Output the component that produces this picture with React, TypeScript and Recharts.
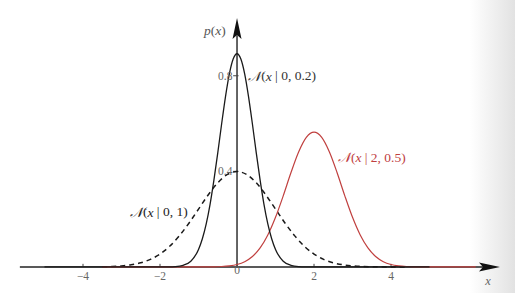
import React from "react";
import { LineChart, Line, XAxis, YAxis, ReferenceLine, ReferenceDot } from "recharts";

// N(x | 0, 0.2)
const narrowX = [-5.0, -2.0, -1.8, -1.6, -1.4, -1.2, -1.0, -0.9, -0.8, -0.7, -0.6, -0.5, -0.4, -0.3, -0.2, -0.1, 0, 0.1, 0.2, 0.3, 0.4, 0.5, 0.6, 0.7, 0.8, 0.9, 1.0, 1.2, 1.4, 1.6, 1.8, 2.0, 5.0];
const narrowP = [0, 0, 0.0003, 0.0015, 0.007, 0.024, 0.073, 0.118, 0.18, 0.262, 0.363, 0.477, 0.598, 0.712, 0.807, 0.87, 0.892, 0.87, 0.807, 0.712, 0.598, 0.477, 0.363, 0.262, 0.18, 0.118, 0.073, 0.024, 0.007, 0.0015, 0.0003, 0, 0];

// N(x | 0, 1)
const wideX = [-3.5, -3.25, -3, -2.75, -2.5, -2.25, -2, -1.75, -1.5, -1.25, -1, -0.75, -0.5, -0.25, 0, 0.25, 0.5, 0.75, 1, 1.25, 1.5, 1.75, 2, 2.25, 2.5, 2.75, 3, 3.25, 3.5, 4, 4.4];
const wideP = [0.0009, 0.002, 0.0044, 0.0091, 0.0175, 0.0317, 0.054, 0.0863, 0.13, 0.183, 0.242, 0.301, 0.352, 0.387, 0.399, 0.387, 0.352, 0.301, 0.242, 0.183, 0.13, 0.0863, 0.054, 0.0317, 0.0175, 0.0091, 0.0044, 0.002, 0.0009, 0.0001, 0];

// N(x | 2, 0.5)
const redX = [-3.5, -1.0, -0.6, -0.4, -0.2, 0, 0.2, 0.4, 0.6, 0.8, 1.0, 1.2, 1.4, 1.6, 1.8, 2.0, 2.2, 2.4, 2.6, 2.8, 3.0, 3.2, 3.4, 3.6, 3.8, 4.0, 4.2, 4.4, 4.6, 5.0, 6.2];
const redP = [0, 0.0001, 0.00065, 0.0018, 0.0045, 0.0103, 0.0221, 0.0436, 0.0795, 0.1337, 0.2076, 0.2975, 0.394, 0.481, 0.542, 0.564, 0.542, 0.481, 0.394, 0.2975, 0.2076, 0.1337, 0.0795, 0.0436, 0.0221, 0.0103, 0.0045, 0.0018, 0.00065, 0.0001, 0];

const xTicks = [-4, -2, 0, 2, 4];
const xTickLabels = ["\u22124", "\u22122", "0", "2", "4"];
const yTicks = [0.4, 0.8];
const yTickLabels = ["0.4", "0.8"];

const toRows = (xs: number[], ps: number[]) => xs.map((x, i) => ({ x, p: ps[i] }));

const narrowData = toRows(narrowX, narrowP);
const wideData = toRows(wideX, wideP);
const redData = toRows(redX, redP);

const serif = { fontFamily: "Liberation Serif" };
const RED = "#c0403f";

const Nlabel = (args: string, color: string) => (props: any) => (
    <text x={props.cx} y={props.cy} dominantBaseline="central" style={serif} fontSize={13.5} fill={color}>
        <tspan fontStyle="italic">𝒩</tspan>(<tspan fontStyle="italic">x</tspan> | {args})
    </text>
);

export default function App() {
    return (
        <div style={{ position: "absolute", left: 0, top: 0, width: 515, height: 293, background: "linear-gradient(to right, #fff 0px, #fff 470px, #e2e2e2 515px)" }}>
            <LineChart width={515} height={293} margin={{ top: 0, right: 0, bottom: 0, left: 0 }}>
                <XAxis hide type="number" dataKey="x" domain={[-6.156, 7.22]} allowDataOverflow />
                <YAxis hide type="number" domain={[-0.109, 1.117]} allowDataOverflow />

                {/* axes */}
                <ReferenceLine segment={[{ x: -5.64, y: 0 }, { x: 6.4, y: 0 }]} stroke="#222" strokeWidth={1.4} />
                <ReferenceLine segment={[{ x: 0, y: 0 }, { x: 0, y: 0.97 }]} stroke="#222" strokeWidth={1.4} />
                <ReferenceDot x={6.83} y={0} r={0} shape={(p: any) => (
                    <polygon points={`${p.cx},${p.cy} ${p.cx - 21},${p.cy - 4.5} ${p.cx - 17},${p.cy} ${p.cx - 21},${p.cy + 4.5}`} fill="#111" />
                )} />
                <ReferenceDot x={0} y={1.042} r={0} shape={(p: any) => (
                    <polygon points={`${p.cx},${p.cy} ${p.cx + 4.5},${p.cy + 21} ${p.cx},${p.cy + 17} ${p.cx - 4.5},${p.cy + 21}`} fill="#111" />
                )} />

                {xTicks.map((t) => (
                    <ReferenceLine key={"xt" + t} segment={[{ x: t, y: 0 }, { x: t, y: 0.013 }]} stroke="#444" strokeWidth={1} />
                ))}
                {xTicks.map((t, i) => (
                    <ReferenceDot key={"xl" + t} x={t} y={t === 0 ? -0.014 : -0.038} r={0} shape={(p: any) => (
                        <text x={p.cx} y={p.cy} textAnchor="middle" dominantBaseline="central" style={serif} fontSize={11.5} fill="#666">{xTickLabels[i]}</text>
                    )} />
                ))}
                {yTicks.map((t) => (
                    <ReferenceLine key={"yt" + t} segment={[{ x: -0.1, y: t }, { x: 0.04, y: t }]} stroke="#444" strokeWidth={1} />
                ))}
                {yTicks.map((t, i) => (
                    <ReferenceDot key={"yl" + t} x={-0.12} y={t} r={0} shape={(p: any) => (
                        <text x={p.cx} y={p.cy} textAnchor="end" dominantBaseline="central" style={serif} fontSize={11.5} fill="#666">{yTickLabels[i]}</text>
                    )} />
                ))}

                <ReferenceDot x={-0.29} y={0.99} r={0} shape={(p: any) => (
                    <text x={p.cx} y={p.cy} textAnchor="end" dominantBaseline="central" style={serif} fontSize={13.5} fill="#555">
                        <tspan fontStyle="italic">p</tspan>(<tspan fontStyle="italic">x</tspan>)
                    </text>
                )} />
                <ReferenceDot x={6.52} y={-0.058} r={0} shape={(p: any) => (
                    <text x={p.cx} y={p.cy} textAnchor="middle" dominantBaseline="central" style={serif} fontSize={12.5} fontStyle="italic" fill="#666">x</text>
                )} />

                <ReferenceDot x={0.29} y={0.8} r={0} shape={Nlabel("0, 0.2", "#333")} />
                <ReferenceDot x={-2.78} y={0.23} r={0} shape={Nlabel("0, 1", "#222")} />
                <ReferenceDot x={2.62} y={0.46} r={0} shape={Nlabel("2, 0.5", RED)} />

                <Line data={wideData} dataKey="p" type="monotone" stroke="#1a1a1a" strokeWidth={1.5} strokeDasharray="5 4" dot={false} activeDot={false} isAnimationActive={false} />
                <Line data={redData} dataKey="p" type="monotone" stroke={RED} strokeWidth={1.2} dot={false} activeDot={false} isAnimationActive={false} />
                <Line data={narrowData} dataKey="p" type="monotone" stroke="#1a1a1a" strokeWidth={1.3} dot={false} activeDot={false} isAnimationActive={false} />
            </LineChart>
        </div>
    );
}
